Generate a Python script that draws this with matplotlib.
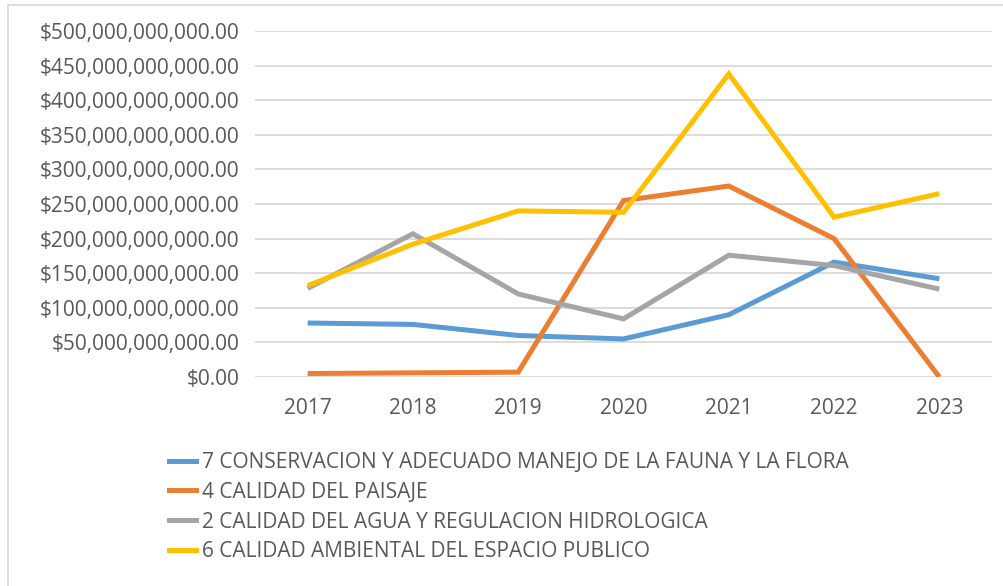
import matplotlib
matplotlib.use("Agg")
import matplotlib.pyplot as plt
from matplotlib.lines import Line2D
from matplotlib.ticker import FuncFormatter, MultipleLocator

years = ["2017", "2018", "2019", "2020", "2021", "2022", "2023"]
series_names = [
    "7 CONSERVACION Y ADECUADO MANEJO DE LA FAUNA Y LA FLORA",
    "4 CALIDAD DEL PAISAJE",
    "2 CALIDAD DEL AGUA Y REGULACION HIDROLOGICA",
    "6 CALIDAD AMBIENTAL DEL ESPACIO PUBLICO",
]
fauna_flora = [78e9, 76e9, 60e9, 55e9, 90e9, 166e9, 142e9]
paisaje = [5e9, 6e9, 7e9, 255e9, 276e9, 200e9, 0]
agua = [128e9, 207e9, 120e9, 84e9, 176e9, 161e9, 127e9]
espacio_publico = [132e9, 192e9, 240e9, 238e9, 438e9, 231e9, 265e9]
series_values = [fauna_flora, paisaje, agua, espacio_publico]
colors = ["#5B9BD5", "#ED7D31", "#A5A5A5", "#FFC000"]

plt.rcParams['font.family'] = ['Open Sans', 'DejaVu Sans']
text_color = "#595959"
fs = 15

fig = plt.figure(figsize=(10.04, 5.86), dpi=100)
ax = fig.add_axes([255/1004, 1-377/586, (992-255)/1004, (377-31)/586])

x = list(range(len(years)))
for vals, c, name in zip(series_values, colors, series_names):
    ax.plot(x, vals, color=c, lw=3.6, solid_capstyle='butt', solid_joinstyle='miter', label=name)

ax.set_xlim(-0.5, len(years) - 0.5)
ax.set_ylim(0, 500e9)
ax.yaxis.set_major_locator(MultipleLocator(50e9))
ax.yaxis.set_major_formatter(FuncFormatter(lambda v, p: "${:,.2f}".format(v)))
ax.set_xticks(x)
ax.set_xticklabels(years)
ax.grid(axis='y', color="#D9D9D9", lw=1.3)
ax.set_axisbelow(True)
for s in ax.spines.values():
    s.set_visible(False)
ax.tick_params(axis='both', length=0, labelsize=fs, colors=text_color)
ax.tick_params(axis='y', pad=11)
ax.tick_params(axis='x', pad=15)

handles = [Line2D([0], [0], color=c, lw=3.6) for c in colors]
leg = fig.legend(handles, series_names, loc='upper left',
                 bbox_to_anchor=(169/1004, 1-452/586), frameon=False,
                 fontsize=fs, labelcolor=text_color, handlelength=1.3,
                 handletextpad=0.3, labelspacing=0.42, borderaxespad=0,
                 borderpad=0)

# outer chart border (left and top visible)
fig.add_artist(Line2D([8/1004, 8/1004], [0, 1-5/586], transform=fig.transFigure, color="#D9D9D9", lw=1.2))
fig.add_artist(Line2D([8/1004, 1], [1-5/586, 1-5/586], transform=fig.transFigure, color="#D9D9D9", lw=1.2))

fig.savefig("out.png", dpi=100)
